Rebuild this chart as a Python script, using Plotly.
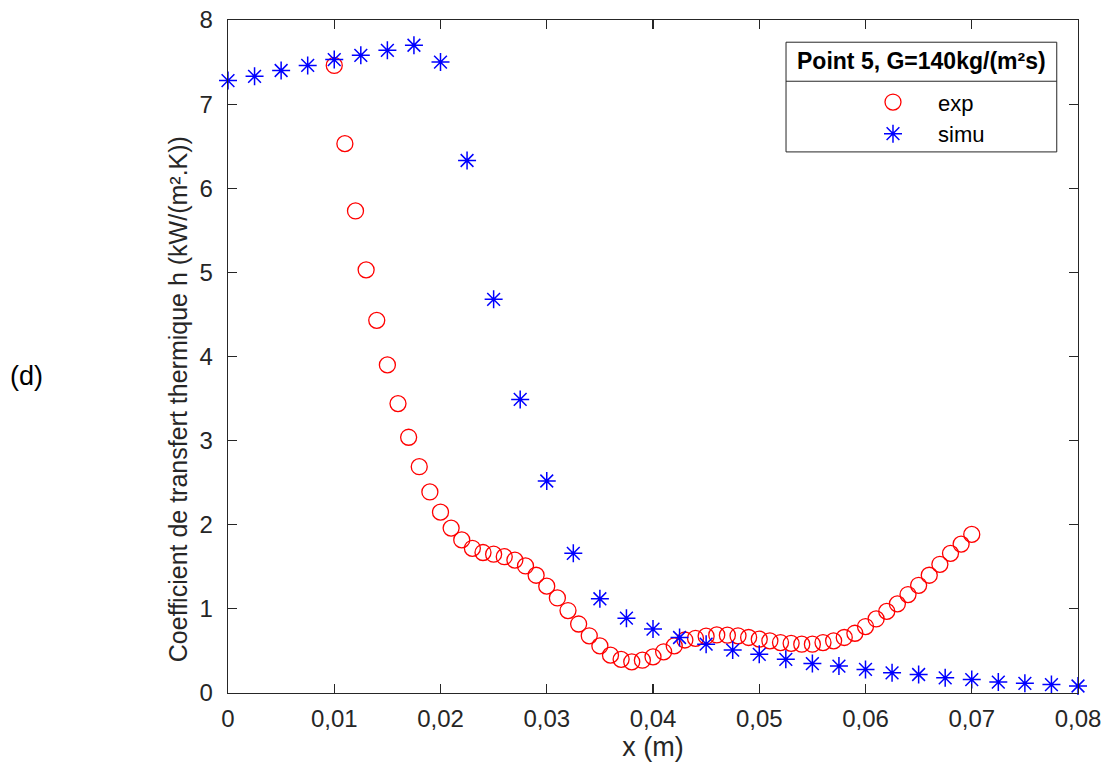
import plotly.graph_objects as go

# ---- data ----
x_simu = [0.0, 0.0025, 0.005, 0.0075, 0.01, 0.0125, 0.015, 0.0175, 0.02, 0.0225,
          0.025, 0.0275, 0.03, 0.0325, 0.035, 0.0375, 0.04, 0.0425, 0.045, 0.0475,
          0.05, 0.0525, 0.055, 0.0575, 0.06, 0.0625, 0.065, 0.0675, 0.07, 0.0725,
          0.075, 0.0775, 0.08]
h_simu = [7.28, 7.33, 7.40, 7.46, 7.53, 7.58, 7.64, 7.70, 7.50, 6.33,
          4.68, 3.49, 2.52, 1.66, 1.12, 0.89, 0.76, 0.66, 0.58, 0.51,
          0.46, 0.40, 0.35, 0.32, 0.28, 0.24, 0.22, 0.18, 0.16, 0.13,
          0.115, 0.10, 0.083]

x_exp = [0.010, 0.011, 0.012, 0.013, 0.014, 0.015, 0.016, 0.017, 0.018, 0.019,
         0.020, 0.021, 0.022, 0.023, 0.024, 0.025, 0.026, 0.027, 0.028, 0.029,
         0.030, 0.031, 0.032, 0.033, 0.034, 0.035, 0.036, 0.037, 0.038, 0.039,
         0.040, 0.041, 0.042, 0.043, 0.044, 0.045, 0.046, 0.047, 0.048, 0.049,
         0.050, 0.051, 0.052, 0.053, 0.054, 0.055, 0.056, 0.057, 0.058, 0.059,
         0.060, 0.061, 0.062, 0.063, 0.064, 0.065, 0.066, 0.067, 0.068, 0.069,
         0.070]
h_exp = [7.46, 6.53, 5.73, 5.03, 4.43, 3.90, 3.44, 3.04, 2.69, 2.39,
         2.15, 1.96, 1.82, 1.72, 1.67, 1.65, 1.62, 1.58, 1.51, 1.40,
         1.27, 1.13, 0.98, 0.82, 0.68, 0.56, 0.45, 0.40, 0.37, 0.39,
         0.43, 0.49, 0.56, 0.63, 0.65, 0.675, 0.69, 0.687, 0.68, 0.66,
         0.64, 0.62, 0.60, 0.59, 0.58, 0.58, 0.60, 0.62, 0.66, 0.71,
         0.79, 0.88, 0.97, 1.06, 1.17, 1.28, 1.40, 1.53, 1.66, 1.77,
         1.885]

x_tickvals = [0, 0.01, 0.02, 0.03, 0.04, 0.05, 0.06, 0.07, 0.08]
x_ticktext = ["0", "0,01", "0,02", "0,03", "0,04", "0,05", "0,06", "0,07", "0,08"]
y_tickvals = [0, 1, 2, 3, 4, 5, 6, 7, 8]

legend_title = "<b>Point 5, G=140kg/(m²s)</b>"
x_title = "x (m)"
y_title = "Coefficient de transfert thermique h (kW/(m².K))"
panel_label = "(d)"

FONT = "Liberation Sans, Arial, sans-serif"
AX = "#262626"

fig = go.Figure()
fig.add_trace(go.Scatter(
    x=x_exp, y=h_exp, mode="markers", name="exp", cliponaxis=False,
    marker=dict(symbol="circle-open", size=16, color="#FF0000",
                line=dict(width=1.3, color="#FF0000")),
))
fig.add_trace(go.Scatter(
    x=x_simu, y=h_simu, mode="markers", name="simu", cliponaxis=False,
    marker=dict(symbol="asterisk-open", size=15, color="#0000FF",
                line=dict(width=1.5, color="#0000FF")),
))

axis_common = dict(
    showline=True, linecolor=AX, linewidth=1.3, mirror="ticks",
    ticks="inside", ticklen=9, tickwidth=1.2, tickcolor=AX,
    showgrid=False, zeroline=False, ticklabeloverflow="allow",
    tickfont=dict(family=FONT, size=24, color=AX),
)

fig.update_layout(
    width=1103, height=772,
    margin=dict(l=228, r=25, t=20, b=79.3, autoexpand=False),
    paper_bgcolor="white", plot_bgcolor="white",
    font=dict(family=FONT, color=AX),
    xaxis=dict(range=[0, 0.08], tickvals=x_tickvals, ticktext=x_ticktext,
               ticklabelstandoff=4,
               title=dict(text=x_title, font=dict(family=FONT, size=27, color=AX), standoff=4),
               **axis_common),
    yaxis=dict(range=[0, 8], tickvals=y_tickvals, ticklabelstandoff=9,
               **axis_common),
    showlegend=True,
    legend=dict(x=0.7294, y=0.909, xanchor="left", yanchor="top",
                bgcolor="rgba(0,0,0,0)", borderwidth=0,
                font=dict(family=FONT, size=22, color="black"),
                itemwidth=80),
)

# y-axis title (placed like the reference, slightly below the axis centre)
fig.add_annotation(text=y_title, xref="paper", yref="paper",
                   x=-0.0588, y=0.4366, xanchor="center", yanchor="middle",
                   textangle=-90, showarrow=False,
                   font=dict(family=FONT, size=25, color=AX))

# legend frame, separator, title
fig.add_shape(type="rect", xref="paper", yref="paper",
              x0=0.6565, x1=0.975, y0=0.804, y1=0.967,
              line=dict(color=AX, width=1), fillcolor="white", layer="below")
fig.add_shape(type="line", xref="paper", yref="paper",
              x0=0.6565, x1=0.975, y0=0.909, y1=0.909,
              line=dict(color=AX, width=1))
fig.add_annotation(text=legend_title, xref="paper", yref="paper",
                   x=0.8159, y=0.939, xanchor="center", yanchor="middle",
                   showarrow=False, font=dict(family=FONT, size=23, color="black"))
fig.add_annotation(text=panel_label, xref="paper", yref="paper",
                   x=-0.2365, y=0.471, xanchor="center", yanchor="middle",
                   showarrow=False, font=dict(family=FONT, size=27, color="black"))

fig.write_html("out.html",
               config={"displayModeBar": False, "staticPlot": True},
               post_script="document.body.style.margin='0';document.body.style.overflow='hidden';")
